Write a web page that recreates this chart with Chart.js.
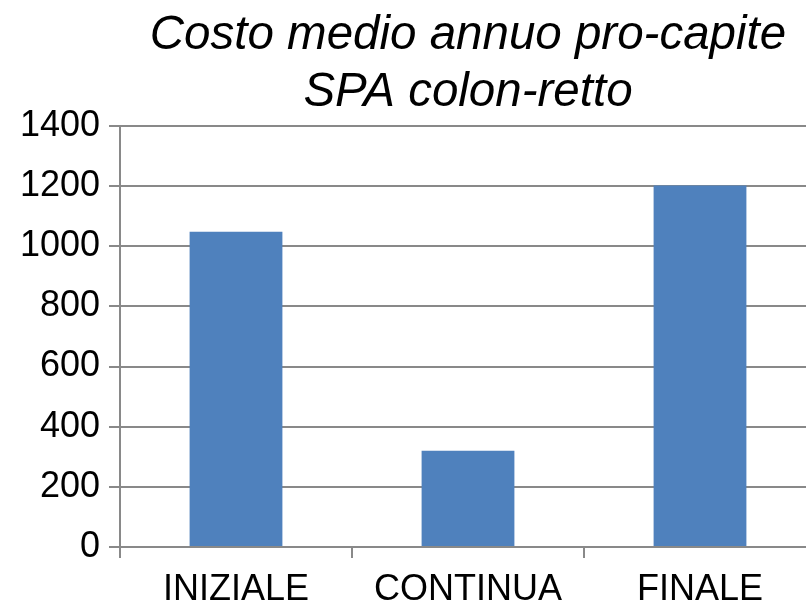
<!DOCTYPE html>
<html>
<head>
<meta charset="utf-8">
<script src="https://cdn.jsdelivr.net/npm/chart.js@4/dist/chart.umd.min.js"></script>
<style>
html,body{margin:0;padding:0;overflow:hidden;background:#fff;}
#wrap{width:816px;height:601px;}
</style>
</head>
<body>
<div id="wrap"><canvas id="c" width="816" height="601"></canvas></div>
<script>
const categories = ["INIZIALE", "CONTINUA", "FINALE"];
const values = [1048, 320, 1202];
const yTicks = [0, 200, 400, 600, 800, 1000, 1200, 1400];
const titleLines = ["Costo medio annuo pro-capite", "SPA colon-retto"];

const gridColor = "#898989";
new Chart(document.getElementById("c"), {
  type: "bar",
  data: {
    labels: categories,
    datasets: [{
      data: values,
      backgroundColor: "#4F81BD",
      borderWidth: 0,
      categoryPercentage: 1,
      barPercentage: 0.4
    }]
  },
  options: {
    responsive: false,
    animation: false,
    layout: { padding: { left: 0, right: 0, top: 0, bottom: 0 } },
    plugins: {
      legend: { display: false },
      tooltip: { enabled: false },
      title: {
        display: true,
        text: titleLines,
        fullSize: false,
        color: "#000",
        font: { family: "Liberation Sans", size: 47.5, style: "italic", weight: "normal", lineHeight: 1.2 },
        padding: { top: 7, bottom: 5 }
      }
    },
    scales: {
      x: {
        grid: { display: true, drawOnChartArea: false, offset: true, color: gridColor, lineWidth: 2, tickLength: 11 },
        border: { display: false },
        ticks: { color: "#000", font: { family: "Liberation Sans", size: 36 }, padding: 10, maxRotation: 0, autoSkip: false },
        afterFit: (s) => { s.height = 54; }
      },
      y: {
        min: 0, max: 1400,
        afterBuildTicks: (s) => { s.ticks = yTicks.map(v => ({ value: v })); },
        grid: { color: gridColor, lineWidth: 2, tickLength: 11 },
        border: { display: true, color: gridColor, width: 2 },
        ticks: { color: "#000", font: { family: "Liberation Sans", size: 36 }, padding: 9, callback: (v) => String(v) },
        afterFit: (s) => { s.width = 120; }
      }
    }
  }
});
</script>
</body>
</html>
